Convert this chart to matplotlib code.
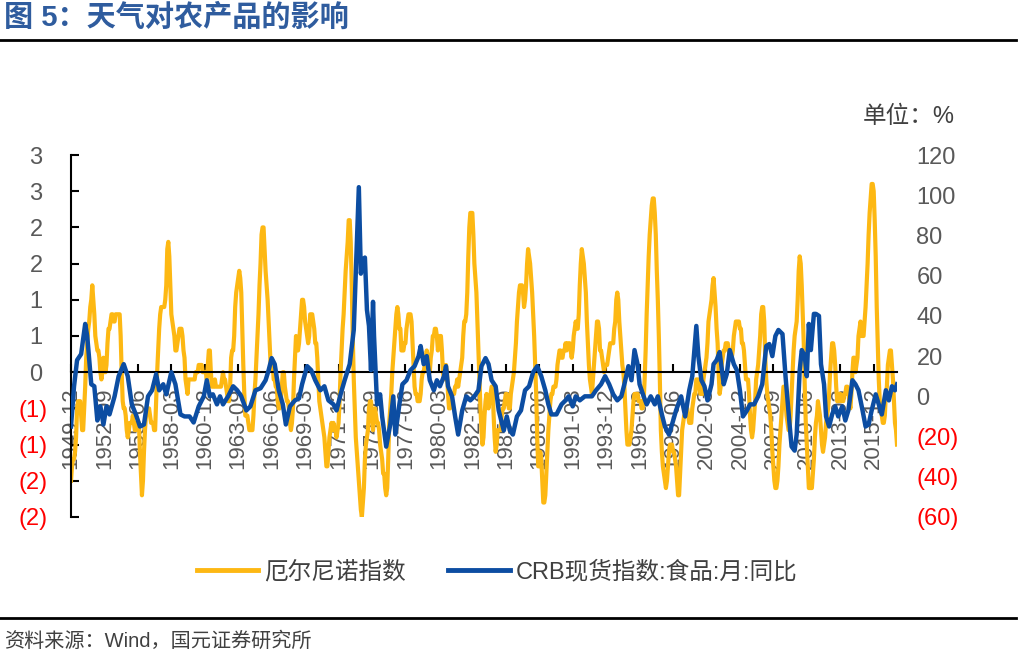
import matplotlib.pyplot as plt
import numpy as np
import pandas as pd
from matplotlib.lines import Line2D

plt.rcParams["font.family"] = ["Liberation Sans", "Noto Sans CJK SC", "DejaVu Sans"]

# El Nino index, monthly, one row per year starting 1949-12
nino_index = [
    -1.5, -1.3, -1.2, -1.2, -1.1, -0.9, -0.5, -0.4, -0.4, -0.4, -0.6, -0.8,  # 1950
    -0.8, -0.5, -0.2, 0.2, 0.4, 0.6, 0.7, 0.9, 1.0, 1.2, 1.0, 0.8,
    0.5, 0.4, 0.3, 0.3, 0.2, 0.0, -0.1, 0.0, 0.2, 0.1, 0.0, 0.1,
    0.4, 0.6, 0.6, 0.7, 0.8, 0.8, 0.7, 0.7, 0.8, 0.8, 0.8, 0.8,
    0.8, 0.5, 0.0, -0.4, -0.5, -0.5, -0.6, -0.8, -0.9, -0.8, -0.7, -0.7,
    -0.7, -0.6, -0.7, -0.8, -0.8, -0.7, -0.7, -0.7, -1.1, -1.4, -1.7, -1.5,  # 1955
    -1.1, -0.8, -0.6, -0.5, -0.5, -0.5, -0.6, -0.7, -0.7, -0.7, -0.8, -0.8,
    -0.4, 0.0, 0.3, 0.6, 0.8, 0.9, 0.9, 0.9, 0.9, 1.0, 1.2, 1.7,
    1.8, 1.6, 1.2, 0.8, 0.7, 0.6, 0.5, 0.3, 0.3, 0.4, 0.5, 0.6,
    0.6, 0.6, 0.5, 0.3, 0.2, -0.1, -0.2, -0.3, -0.1, -0.1, -0.1, -0.1,
    -0.1, -0.1, -0.1, 0.0, 0.0, 0.0, 0.1, 0.1, 0.1, 0.1, 0.0, 0.0,  # 1960
    0.0, 0.0, -0.1, 0.1, 0.3, 0.3, 0.0, -0.2, -0.2, -0.2, -0.1, -0.2,
    -0.2, -0.2, -0.2, -0.2, -0.2, -0.1, 0.0, -0.1, -0.1, -0.2, -0.3, -0.4,
    -0.4, -0.2, 0.2, 0.3, 0.3, 0.5, 0.9, 1.1, 1.2, 1.3, 1.4, 1.3,
    1.1, 0.6, 0.1, -0.3, -0.6, -0.6, -0.6, -0.7, -0.8, -0.8, -0.8, -0.8,
    -0.6, -0.3, -0.1, 0.2, 0.5, 0.8, 1.2, 1.5, 1.9, 2.0, 2.0, 1.7,  # 1965
    1.4, 1.2, 1.0, 0.7, 0.4, 0.1, 0.1, 0.1, -0.1, -0.1, -0.2, -0.2,
    -0.4, -0.5, -0.5, -0.4, -0.2, 0.0, 0.0, -0.2, -0.3, -0.4, -0.4, -0.5,
    -0.7, -0.8, -0.7, -0.5, -0.1, 0.2, 0.5, 0.4, 0.3, 0.4, 0.6, 0.8,
    1.0, 1.0, 0.9, 0.7, 0.6, 0.5, 0.4, 0.5, 0.8, 0.8, 0.8, 0.7,
    0.6, 0.4, 0.4, 0.2, -0.1, -0.4, -0.5, -0.6, -0.7, -0.8, -0.9, -1.1,  # 1970
    -1.3, -1.3, -1.1, -0.9, -0.8, -0.7, -0.8, -0.7, -0.8, -0.8, -0.9, -0.8,
    -0.7, -0.4, 0.0, 0.3, 0.6, 0.8, 1.1, 1.4, 1.6, 1.8, 2.1, 2.1,
    1.8, 1.2, 0.5, -0.1, -0.5, -0.9, -1.1, -1.3, -1.5, -1.7, -1.9, -2.0,
    -1.8, -1.6, -1.2, -1.0, -0.9, -0.8, -0.5, -0.4, -0.4, -0.6, -0.8, -0.6,
    -0.5, -0.6, -0.7, -0.7, -0.8, -1.0, -1.1, -1.2, -1.4, -1.4, -1.6, -1.7,  # 1975
    -1.6, -1.2, -0.7, -0.5, -0.3, 0.0, 0.2, 0.4, 0.6, 0.8, 0.9, 0.8,
    0.6, 0.6, 0.3, 0.3, 0.3, 0.4, 0.4, 0.6, 0.7, 0.8, 0.8, 0.8,
    0.7, 0.4, 0.1, -0.2, -0.3, -0.3, -0.4, -0.4, -0.4, -0.3, -0.1, 0.0,
    0.0, 0.1, 0.2, 0.3, 0.2, 0.0, 0.0, 0.2, 0.3, 0.5, 0.5, 0.6,
    0.6, 0.5, 0.3, 0.4, 0.5, 0.5, 0.3, 0.0, -0.1, 0.0, 0.1, 0.0,  # 1980
    -0.3, -0.5, -0.5, -0.4, -0.3, -0.3, -0.3, -0.2, -0.2, -0.1, -0.2, -0.1,
    0.0, 0.1, 0.2, 0.5, 0.7, 0.7, 0.8, 1.1, 1.6, 2.0, 2.2, 2.2,
    2.2, 1.9, 1.5, 1.3, 1.1, 0.7, 0.3, -0.1, -0.5, -0.8, -1.0, -0.9,
    -0.6, -0.4, -0.3, -0.4, -0.5, -0.4, -0.3, -0.2, -0.2, -0.6, -0.9, -1.1,
    -1.0, -0.8, -0.8, -0.8, -0.8, -0.6, -0.5, -0.5, -0.4, -0.3, -0.3, -0.4,  # 1985
    -0.5, -0.5, -0.3, -0.2, -0.1, 0.0, 0.2, 0.4, 0.7, 0.9, 1.1, 1.2,
    1.2, 1.2, 1.1, 0.9, 1.0, 1.2, 1.5, 1.7, 1.6, 1.5, 1.3, 1.1,
    0.8, 0.5, 0.1, -0.3, -0.9, -1.3, -1.3, -1.1, -1.2, -1.5, -1.8, -1.8,
    -1.7, -1.4, -1.1, -0.8, -0.6, -0.4, -0.3, -0.3, -0.2, -0.2, -0.2, -0.1,
    0.1, 0.2, 0.3, 0.3, 0.2, 0.2, 0.3, 0.3, 0.4, 0.3, 0.4, 0.4,  # 1990
    0.4, 0.3, 0.2, 0.3, 0.5, 0.6, 0.7, 0.6, 0.6, 0.8, 1.2, 1.5,
    1.7, 1.6, 1.5, 1.3, 1.1, 0.7, 0.4, 0.1, -0.1, -0.2, -0.3, -0.1,
    0.1, 0.3, 0.5, 0.7, 0.7, 0.6, 0.3, 0.3, 0.2, 0.1, 0.0, 0.1,
    0.1, 0.1, 0.2, 0.3, 0.4, 0.4, 0.4, 0.4, 0.6, 0.7, 1.0, 1.1,
    1.0, 0.7, 0.5, 0.3, 0.1, 0.0, -0.2, -0.5, -0.8, -1.0, -1.0, -1.0,  # 1995
    -0.9, -0.8, -0.6, -0.4, -0.3, -0.3, -0.3, -0.3, -0.4, -0.4, -0.4, -0.5,
    -0.5, -0.4, -0.1, 0.3, 0.8, 1.2, 1.6, 1.9, 2.1, 2.3, 2.4, 2.4,
    2.2, 1.9, 1.4, 1.0, 0.5, -0.1, -0.8, -1.1, -1.3, -1.4, -1.5, -1.6,
    -1.5, -1.3, -1.1, -1.0, -1.0, -1.0, -1.1, -1.1, -1.2, -1.3, -1.5, -1.7,
    -1.7, -1.4, -1.1, -0.8, -0.7, -0.6, -0.6, -0.5, -0.5, -0.6, -0.7, -0.7,  # 2000
    -0.7, -0.5, -0.4, -0.3, -0.3, -0.1, -0.1, -0.1, -0.2, -0.3, -0.3, -0.3,
    -0.1, 0.0, 0.1, 0.2, 0.4, 0.7, 0.8, 0.9, 1.0, 1.2, 1.3, 1.1,
    0.9, 0.6, 0.4, 0.0, -0.3, -0.2, 0.1, 0.2, 0.3, 0.3, 0.4, 0.4,
    0.4, 0.3, 0.2, 0.2, 0.2, 0.3, 0.5, 0.6, 0.7, 0.7, 0.7, 0.7,
    0.6, 0.6, 0.4, 0.4, 0.3, 0.1, -0.1, -0.1, -0.1, -0.3, -0.6, -0.8,  # 2005
    -0.9, -0.8, -0.6, -0.4, -0.1, 0.0, 0.1, 0.3, 0.5, 0.8, 0.9, 0.9,
    0.7, 0.2, -0.1, -0.3, -0.4, -0.5, -0.6, -0.8, -1.1, -1.3, -1.5, -1.6,
    -1.6, -1.5, -1.3, -1.0, -0.8, -0.6, -0.4, -0.2, -0.2, -0.4, -0.6, -0.7,
    -0.8, -0.8, -0.6, -0.3, 0.0, 0.3, 0.5, 0.6, 0.7, 1.0, 1.4, 1.6,
    1.5, 1.2, 0.8, 0.4, -0.2, -0.7, -1.0, -1.3, -1.6, -1.6, -1.6, -1.6,  # 2010
    -1.4, -1.2, -0.9, -0.7, -0.6, -0.4, -0.5, -0.6, -0.8, -1.0, -1.1, -1.0,
    -0.9, -0.7, -0.6, -0.5, -0.3, 0.0, 0.2, 0.4, 0.4, 0.3, 0.1, -0.2,
    -0.4, -0.4, -0.3, -0.3, -0.4, -0.4, -0.4, -0.3, -0.3, -0.2, -0.2, -0.3,
    -0.4, -0.5, -0.3, 0.0, 0.2, 0.2, 0.0, 0.1, 0.2, 0.5, 0.6, 0.7,
    0.5, 0.5, 0.5, 0.7, 0.9, 1.2, 1.5, 1.9, 2.2, 2.4, 2.6, 2.6,  # 2015
    2.5, 2.1, 1.6, 0.9, 0.4, -0.1, -0.4, -0.5, -0.6, -0.7, -0.7, -0.6,
    -0.3, -0.2, 0.1, 0.2, 0.3, 0.3, 0.1, -0.1, -0.4, -0.7, -0.8, -1.0,
]

# CRB food spot index, YoY % (month offset from 1949-12)
crb_month = [
    0, 3, 6, 10, 14, 16, 20, 23, 26, 29, 32, 35, 38, 43, 47, 52, 56, 60, 64, 68,
    72, 76, 80, 84, 87, 91, 94, 99, 103, 108, 112, 117, 121, 126, 131, 134, 137,
    140, 144, 147, 150, 155, 160, 164, 168, 173, 177, 182, 187, 192, 195, 198,
    201, 205, 209, 212, 216, 221, 225, 228, 233, 237, 241, 246, 250, 254, 259,
    262, 266, 270, 275, 279, 281, 284, 286, 288, 290, 292, 294, 296, 298, 299,
    302, 305, 307, 311, 315, 318, 320, 324, 327, 331, 335, 339, 343, 345, 348,
    351, 354, 358, 361, 364, 368, 370, 372, 376, 379, 382, 386, 390, 394, 398,
    402, 405, 409, 412, 415, 419, 422, 427, 430, 433, 436, 440, 444, 448, 452,
    456, 460, 464, 468, 471, 474, 479, 484, 488, 491, 495, 498, 502, 507, 511,
    514, 518, 523, 527, 531, 535, 539, 543, 546, 550, 553, 556, 559, 561, 565,
    568, 572, 576, 579, 583, 586, 590, 593, 597, 602, 606, 610, 613, 617, 619,
    622, 625, 628, 632, 634, 637, 640, 644, 647, 650, 654, 657, 660, 663, 667,
    670, 674, 678, 682, 686, 689, 692, 695, 698, 702, 705, 709, 711, 714, 716,
    719, 721, 724, 726, 728, 730, 733, 735, 738, 740, 743, 745, 748, 751, 754,
    757, 761, 764, 767, 771, 774, 777, 781, 784, 787, 790, 794, 797, 800, 804,
    807, 810, 813, 815,
]
crb_yoy = [
    -15, 5, 18, 21, 36, 30, 6, 5, -12, -5, -14, -5, -9, 0, 10, 16, 10, -4, -9, -15,
    -14, 0, 3, 11, 3, 6, 1, 12, 6, -9, -10, -10, -13, -5, 0, 8, 0,
    1, -4, 0, -4, 0, 5, 3, 0, -7, -5, 3, 4, 8, 13, 19,
    16, 3, -4, -14, -5, -2, -1, 6, 15, 13, 8, 3, 5, -2, -4,
    -7, 1, 8, 16, 33, 61, 104, 61, 68, 69, 43, 35, 13, 47, 30,
    -4, 1, -10, -25, -14, 0, -19, -4, 6, 8, 13, 15, 20, 25, 16,
    20, 8, 3, 8, 5, 10, 15, 5, 0, -10, -19, -7, 0, -2, 0,
    3, 15, 19, 16, 8, 5, -7, -17, -10, -17, -19, -10, -7, 3, 5,
    12, 15, 10, 3, -4, -9, -9, -4, -2, 0, -5, 0, -2, 0, 0,
    0, 3, 6, 10, 6, 1, -2, 0, 6, 15, 8, 23, 16, 6, 0,
    -4, 0, -4, 0, -9, -15, -19, -14, -7, 0, -10, 3, 10, 35, 20,
    8, 5, -2, 6, 16, 18, 22, 6, 11, 23, 16, 13, 3, -10, -7,
    -4, -4, 0, 6, 25, 26, 20, 30, 33, 31, 10, -14, -25, -27, -19,
    13, 23, 20, 10, 36, 23, 41, 41, 40, 16, 6, -10, -15, -9, -5,
    -10, -5, -12, -7, 8, 6, 3, -7, -15, -14, -7, 1, -4, -9, 3,
    -2, 5, 3, 6,
]

start_month = "1949-12"
tick_step = 33
left_ticks = [-2.0, -1.5, -1.0, -0.5, 0.0, 0.5, 1.0, 1.5, 2.0, 2.5, 3.0]
right_ticks = [-60, -40, -20, 0, 20, 40, 60, 80, 100, 120]

YELLOW = "#FDB813"
BLUE = "#0C4DA2"
GREY = "#595959"
RED = "#FF0000"


def paren_label(v, pad_pos=False):
    # excel style 0_);(0): round half away from zero, negatives in brackets
    r = int(np.floor(abs(v) + 0.5))
    if v < 0:
        return f"({r})"
    return f"{r}\u2009" if pad_pos else f"{r}"


def main():
    W, H = 1029, 661
    fig = plt.figure(figsize=(W / 100, H / 100), dpi=100)
    ax = fig.add_axes([71 / W, 1 - 517 / H, (897 - 71) / W, (517 - 155) / H])
    ax2 = ax.twinx()

    x = np.arange(len(nino_index))
    ax.plot(x, nino_index, color=YELLOW, lw=3.0, solid_joinstyle="round")
    ax2.plot(crb_month, crb_yoy, color=BLUE, lw=3.2, solid_joinstyle="round")

    ax.set_xlim(0, len(nino_index) - 1)
    ax.set_ylim(-2, 3)
    ax2.set_ylim(-60, 120)

    for s in ["top", "right"]:
        ax.spines[s].set_visible(False)
    for s in ax2.spines.values():
        s.set_visible(False)
    ax.spines["bottom"].set_position(("data", 0))
    ax.spines["left"].set_linewidth(1.5)
    ax.spines["bottom"].set_linewidth(1.5)

    months = pd.period_range(start_month, periods=len(nino_index), freq="M")
    xt = list(range(0, len(nino_index), tick_step))
    ax.set_xticks(xt)
    ax.set_xticklabels([months[i].strftime("%Y-%m") for i in xt], rotation=90)
    ax.tick_params(axis="x", direction="in", length=6, width=1.5, pad=11,
                   labelsize=16, labelcolor=GREY)

    ax.set_yticks(left_ticks)
    ax.set_yticklabels([paren_label(v, True) for v in left_ticks])
    ax.tick_params(axis="y", direction="in", length=6, width=1.5, pad=17,
                   labelsize=17)
    for lab, v in zip(ax.get_yticklabels(), left_ticks):
        lab.set_color(RED if v < 0 else GREY)

    ax2.set_yticks(right_ticks)
    ax2.set_yticklabels([paren_label(v) for v in right_ticks])
    ax2.tick_params(axis="y", length=0, pad=14, labelsize=17)
    for lab, v in zip(ax2.get_yticklabels(), right_ticks):
        lab.set_color(RED if v < 0 else GREY)

    fig.text(955 / W, 1 - 117 / H, "单位：%", ha="right", va="center",
             fontsize=17, color="#404040")

    # title and rules
    fig.text(4 / W, 1 - 18 / H, "图 5：天气对农产品的影响", ha="left", va="center",
             fontsize=21, fontweight="bold", color="#2F5C9E")
    fig.add_artist(Line2D([0, 1016 / W], [1 - 40 / H] * 2, color="black", lw=2))
    fig.add_artist(Line2D([0, 1016 / W], [1 - 618 / H] * 2, color="black", lw=2))
    fig.text(4 / W, 1 - 641 / H, "资料来源：Wind，国元证券研究所", ha="left",
             va="center", fontsize=14.5, color="#404040")

    handles = [Line2D([], [], color=YELLOW, lw=3.5), Line2D([], [], color=BLUE, lw=3.5)]
    fig.legend(handles, ["厄尔尼诺指数", "CRB现货指数:食品:月:同比"], loc="center",
               bbox_to_anchor=(497 / W, 1 - 572 / H), ncol=2, frameon=False,
               fontsize=17, handlelength=2.6, handletextpad=0.25,
               columnspacing=1.8, labelcolor="#404040")

    fig.savefig("out.png", dpi=100)


if __name__ == "__main__":
    main()
